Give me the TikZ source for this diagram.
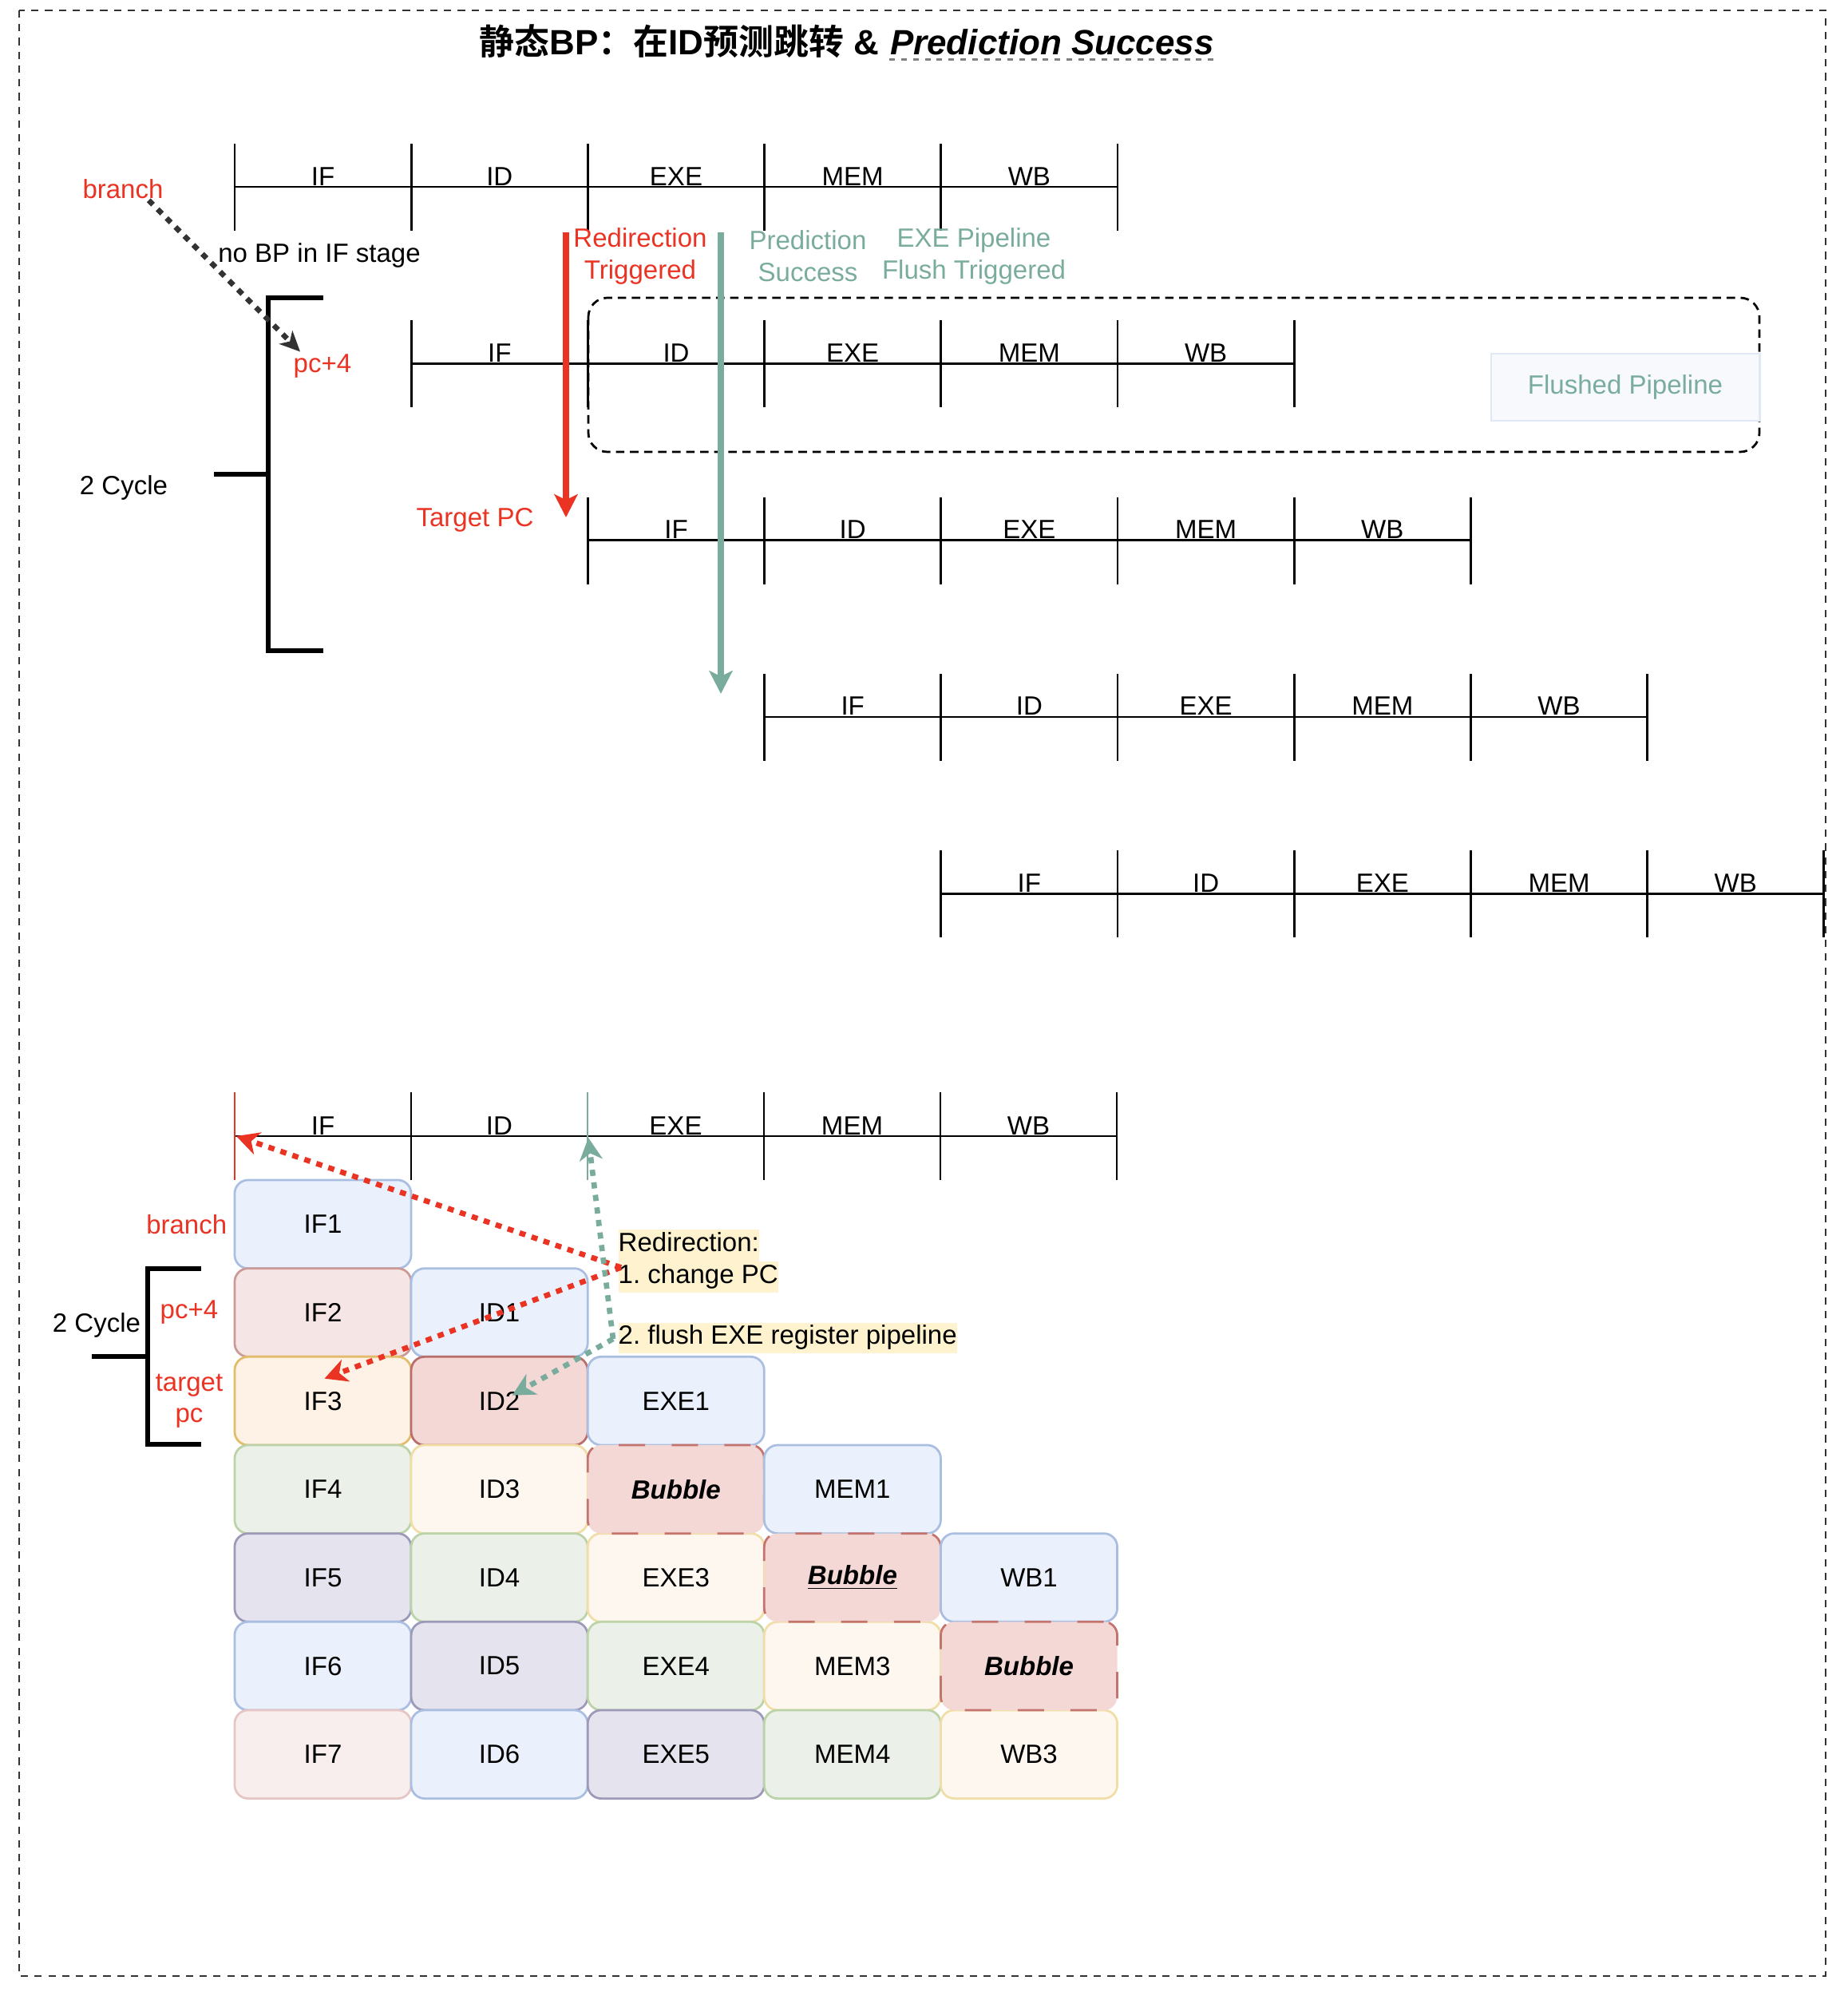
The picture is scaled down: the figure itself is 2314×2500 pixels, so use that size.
\documentclass[tikz,border=0pt]{standalone}
\usepackage{fontspec}
\setmainfont{Liberation Sans}
\newfontfamily\cjk{Noto Sans CJK SC}[BoldFont={Noto Sans CJK SC Bold}]
\usetikzlibrary{arrows.meta, positioning}

\definecolor{redline}{HTML}{EA3323}
\definecolor{tealline}{HTML}{7AAC9E}
\definecolor{darkdot}{HTML}{333333}
\definecolor{notebg}{HTML}{FFF2CF}
\definecolor{flushfill}{HTML}{F7F9FD}
\definecolor{flushline}{HTML}{E1E8F5}
\definecolor{bluefill}{HTML}{EAF1FC}
\definecolor{blueline}{HTML}{A9BEE0}
\definecolor{pinkfill}{HTML}{F5E5E4}
\definecolor{pinkline}{HTML}{CB9A97}
\definecolor{rosefill}{HTML}{F3D8D6}
\definecolor{roseline}{HTML}{B86F6B}
\definecolor{orangefill}{HTML}{FDF2E5}
\definecolor{orangeline}{HTML}{E3BC6A}
\definecolor{creamfill}{HTML}{FEF7F0}
\definecolor{creamline}{HTML}{F1DEA6}
\definecolor{greenfill}{HTML}{EBF1E8}
\definecolor{greenline}{HTML}{BCD3A9}
\definecolor{purplefill}{HTML}{E5E3EE}
\definecolor{purpleline}{HTML}{9C9AB8}
\definecolor{palefill}{HTML}{F9EEEE}
\definecolor{paleline}{HTML}{E6C6C5}
\definecolor{bubline}{HTML}{C4736D}

\setlength{\fboxsep}{0pt}
\frenchspacing
\newcommand{\lblfont}{\fontsize{9.39pt}{11.27pt}\selectfont}
\newcommand{\notefont}{\fontsize{9.39pt}{10.8pt}\selectfont}
\newcommand{\ttlfont}{\fontsize{12.5pt}{15pt}\selectfont\bfseries}

\tikzset{
    tline/.style={line width=0.78pt},
    stage/.style={anchor=base, inner sep=0, font=\lblfont},
    lbl/.style={inner sep=0, font=\lblfont, align=center},
    redlbl/.style={lbl, text=redline},
    teallbl/.style={lbl, text=tealline},
    brace/.style={line width=1.56pt},
    outerframe/.style={darkdot, line width=0.55pt, dash pattern=on 2.6pt off 2.3pt},
    flushbox/.style={line width=0.78pt, rounded corners=6.8pt, dash pattern=on 3pt off 2pt},
    cell/.style={rectangle, rounded corners=4.8pt, minimum width=2.21cm, minimum height=1.106cm, inner sep=0, outer sep=0, line width=0.78pt, font=\lblfont},
    cellblue/.style={cell, fill=bluefill, draw=blueline},
    cellpink/.style={cell, fill=pinkfill, draw=pinkline},
    cellrose/.style={cell, fill=rosefill, draw=roseline},
    cellorange/.style={cell, fill=orangefill, draw=orangeline},
    cellcream/.style={cell, fill=creamfill, draw=creamline},
    cellgreen/.style={cell, fill=greenfill, draw=greenline},
    cellpurple/.style={cell, fill=purplefill, draw=purpleline},
    cellpale/.style={cell, fill=palefill, draw=paleline},
    bubble/.style={cell, fill=rosefill, draw=bubline, dash pattern=on 9.4pt off 9.4pt, font=\lblfont\bfseries\itshape},
    thickarrow/.style={line width=2.2pt, -{Stealth[length=8.2pt, width=8.3pt, inset=2pt]}},
    dotarrow/.style={line width=1.9pt, dash pattern=on 2.2pt off 2.3pt, -{Stealth[length=8pt, width=8.2pt, inset=2.4pt]}}
}

\begin{document}
\begin{tikzpicture}[x=0.01cm, y=-0.01cm]
\useasboundingbox (0,0) rectangle (2314,2500);
\draw[outerframe] (24,13) rectangle (2287,2475);

% Title
\node (title) [anchor=base west, inner sep=0, font=\ttlfont] at (600,69) {{\cjk 静态}BP{\cjk ：在}ID{\cjk 预测跳转} \&};
\node (titleit) [anchor=base west, inner sep=0, font=\ttlfont\itshape] at ([xshift=3.5pt]title.base east) {Prediction Success};
\draw[gray, line width=0.8pt, dash pattern=on 2pt off 2.2pt] ([yshift=-1.5pt]titleit.base west) -- ([yshift=-1.5pt]titleit.base east);

% Upper part: five staggered pipelines
\foreach \r in {0,...,4}{
    \draw[tline] ({294+221.2*\r},{234+221.3*\r}) -- ++(1106,0);
    \foreach \j in {0,...,5}
        \draw[tline] ({294+221.2*(\r+\j)},{180+221.3*\r}) -- ++(0,109);
    \foreach \s [count=\j from 0] in {IF,ID,EXE,MEM,WB}
        \node[stage] (r\r-\s) at ({404.6+221.2*(\r+\j)},{232+221.3*\r}) {\s};
}

% Flushed instruction
\draw[flushbox] (737,373) rectangle (2204,566);
\node (flushed) [rectangle, fill=flushfill, draw=flushline, line width=0.78pt, minimum width=3.36cm, minimum height=0.84cm, text=tealline, font=\lblfont] at (2036,485) {Flushed Pipeline};

% Upper labels
\node (branchtop) [redlbl] at (154,237) {branch};
\node (nobp) [lbl] at (400,320) {no BP in IF stage};
\node (pc4top) [redlbl] at (404,459) {pc+4};
\node (cyctop) [lbl] at (155,611) {2 Cycle};
\node (tgtpc) [redlbl] at (595,651) {Target PC};
\node (redirtrig) [redlbl] at (802,321) {Redirection\\Triggered};
\node (predsucc) [teallbl] at (1012,321) {Prediction\\Success};
\node (exeflush) [teallbl] at (1220,321) {EXE Pipeline\\Flush Triggered};

% Upper bracket
\draw[brace] (405,373) -- (336,373) -- (336,815) -- (405,815);
\draw[brace] (268,594) -- (336,594);

% Redirection and prediction markers
\coordinate (redtop) at (709,291);
\coordinate (redtip) at (709,648);
\coordinate (tealtop) at (903,291);
\coordinate (tealtip) at (903,869);
\draw[thickarrow, redline] (redtop) -- (redtip);
\draw[thickarrow, tealline] (tealtop) -- (tealtip);
\draw[dotarrow, darkdot, -{Stealth[length=7.2pt, width=6.6pt, inset=2pt]}] ([shift={(-19,1)}]branchtop.south east) -- ([shift={(9,-3)}]pc4top.north west);

% Lower part: reference pipeline
\draw[tline] (294,1423) -- (1399,1423);
\foreach \j in {1,3,4,5}
    \draw[tline] ({294+221*\j},1368) -- ++(0,110);
\draw[line width=0.5pt, redline] (294,1368) -- ++(0,110);
\draw[line width=0.5pt, tealline] (736,1368) -- ++(0,110);
\foreach \s [count=\j from 0] in {IF,ID,EXE,MEM,WB}
    \node[stage] (b-\s) at ({404.5+221*\j},1421) {\s};
\coordinate (pcjoin) at (296,1423);
\coordinate (exejoin) at (737,1425);

% Lower part: instruction grid
\node (if1) [cellblue] at (404.5,1533.3) {IF1};
\node (if2) [cellpink, below=0pt of if1] {IF2};
\node (if3) [cellorange, below=0pt of if2] {IF3};
\node (if4) [cellgreen, below=0pt of if3] {IF4};
\node (if5) [cellpurple, below=0pt of if4] {IF5};
\node (if6) [cellblue, below=0pt of if5] {IF6};
\node (if7) [cellpale, below=0pt of if6] {IF7};
\node (id1) [cellblue, right=0pt of if2] {ID1};
\node (id2) [cellrose, right=0pt of if3] {ID2};
\node (id3) [cellcream, right=0pt of if4] {ID3};
\node (id4) [cellgreen, right=0pt of if5] {ID4};
\node (id5) [cellpurple, right=0pt of if6] {ID5};
\node (id6) [cellblue, right=0pt of if7] {ID6};
\node (exe1) [cellblue, right=0pt of id2] {EXE1};
\node (exe3) [cellcream, right=0pt of id4] {EXE3};
\node (exe4) [cellgreen, right=0pt of id5] {EXE4};
\node (exe5) [cellpurple, right=0pt of id6] {EXE5};
\node (mem3) [cellcream, right=0pt of exe4] {MEM3};
\node (mem4) [cellgreen, right=0pt of exe5] {MEM4};
\node (wb3) [cellcream, right=0pt of mem4] {WB3};
\node (bub1) [bubble, right=0pt of id3] {Bubble};
\node (mem1) [cellblue, right=0pt of bub1] {MEM1};
\node (bub2) [bubble, right=0pt of exe3] {\underline{Bubble}};
\node (wb1) [cellblue, right=0pt of bub2] {WB1};
\node (bub3) [bubble, right=0pt of mem3] {Bubble};

% Lower labels
\node (branchbot) [redlbl, left=0.09cm of if1] {branch};
\node (pc4bot) [redlbl, left=0.2cm of if2] {pc+4};
\node (tgtbot) [redlbl, left=0.14cm of if3] {target\\pc};
\node (cycbot) [lbl] at (121,1660) {2 Cycle};
\draw[brace] (252,1589) -- (185,1589) -- (185,1809) -- (252,1809);
\draw[brace] (115,1699) -- (185,1699);

\node (redir) [lbl, anchor=west, align=left] at (774,1579.5) {\colorbox{notebg}{\strut Redirection:}\\\colorbox{notebg}{\strut 1. change PC}};
\node (flush) [lbl, anchor=west, font=\notefont] at (774,1676) {\colorbox{notebg}{\strut 2. flush EXE register pipeline}};

% Redirection and flush paths
\draw[dotarrow, redline] ([shift={(4,8)}]redir.west) -- (pcjoin);
\draw[dotarrow, redline] ([shift={(4,8)}]redir.west) -- ([shift={(2,-28)}]if3.center);
\draw[dotarrow, tealline] ([shift={(-6,1)}]flush.west) -- (exejoin);
\draw[dotarrow, tealline] ([shift={(-6,1)}]flush.west) -- ([shift={(16,-7)}]id2.center);

\end{tikzpicture}
\end{document}
